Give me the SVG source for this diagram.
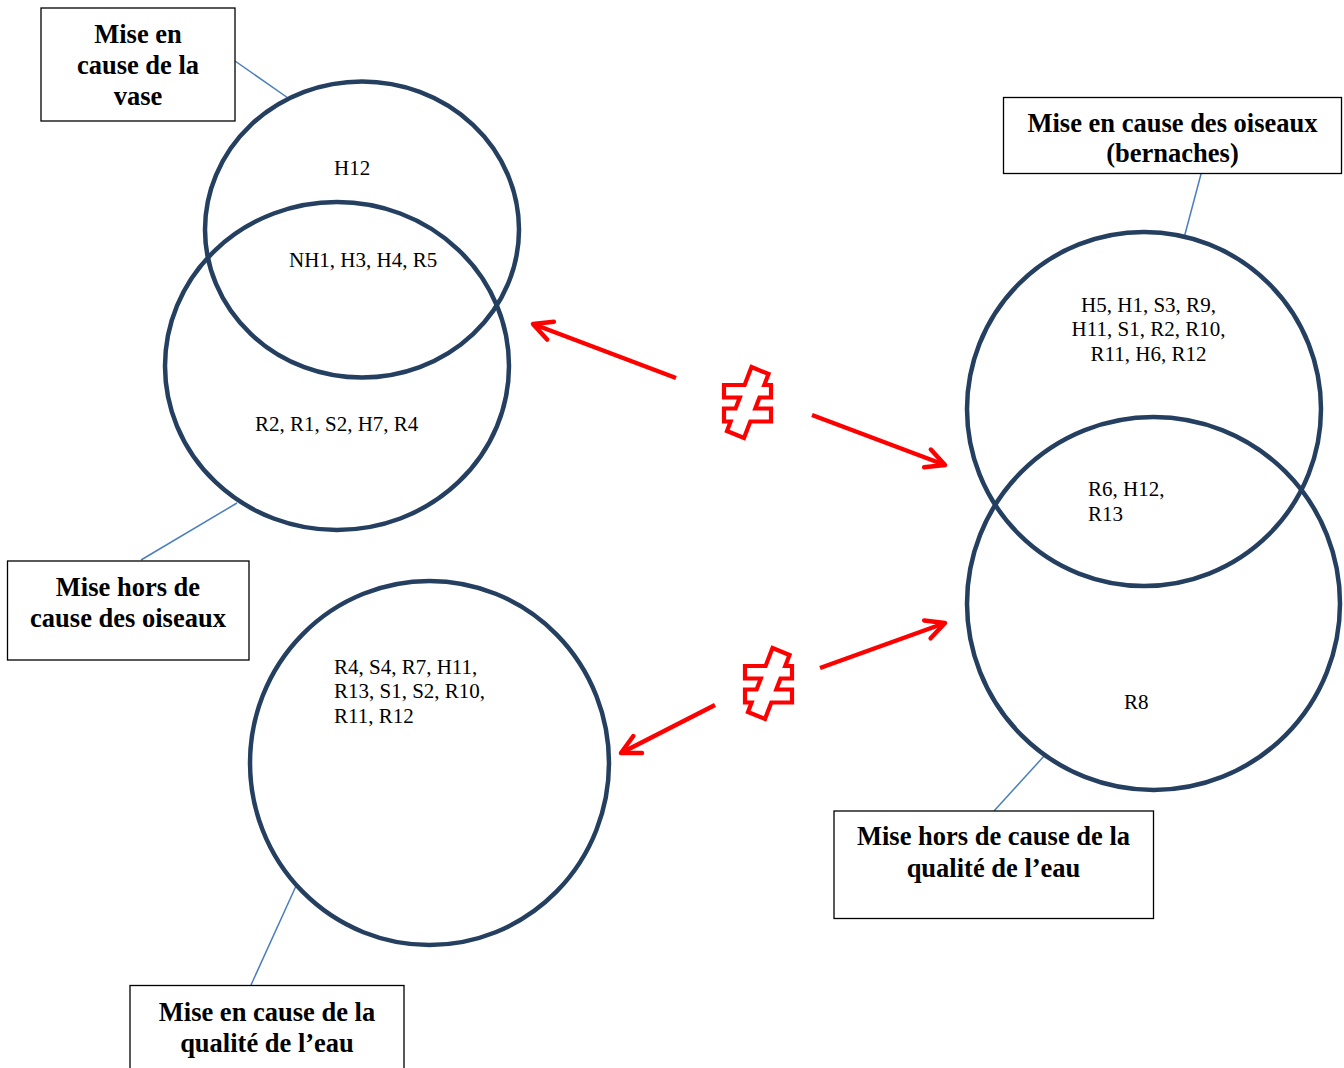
<svg xmlns="http://www.w3.org/2000/svg" width="1344" height="1068" viewBox="0 0 1344 1068">
<style>
.box{fill:#fff;stroke:#000;stroke-width:1.3}
.lbl{font-family:"Liberation Serif","Times New Roman",serif;font-weight:bold;font-size:26.5px;fill:#000;text-anchor:middle}
.item{font-family:"Liberation Serif","Times New Roman",serif;font-size:21px;fill:#000}
.ring{fill:none;stroke:#243F60;stroke-width:4.5}
.lead{stroke:#4A7EBB;stroke-width:1.5;fill:none}
.arr{stroke:#FF0000;stroke-width:4.5;fill:none;marker-end:url(#ah)}
.neq{fill:#fff;stroke:#FF0000;stroke-width:4.2;stroke-linejoin:miter}
</style>
<defs>
<marker id="ah" markerUnits="userSpaceOnUse" viewBox="-25 -15 30 30" refX="0" refY="0" markerWidth="30" markerHeight="30" orient="auto" overflow="visible">
<path d="M-18.7,-9.5 L0,0 L-18.7,9.5" fill="none" stroke="#FF0000" stroke-width="4.5" stroke-linecap="round" stroke-linejoin="round"/>
</marker>
<polygon id="neqshape" points="751.5,367 768.5,374 764.3,385 771,385 771,397.5 759.5,397.5 755.3,408.5 771,408.5 771,421.5 750.3,421.5 744,438 727,431 730.6,421.5 724,421.5 724,408.5 735.6,408.5 739.8,397.5 724,397.5 724,385 744.6,385"/>
</defs>
<rect width="1344" height="1068" fill="#fff"/>

<g id="connectors">
<line class="lead" x1="235" y1="61" x2="288" y2="98"/>
<line class="lead" x1="141" y1="560" x2="237" y2="503"/>
<line class="lead" x1="1201" y1="174" x2="1184" y2="238"/>
<line class="lead" x1="994" y1="811" x2="1045" y2="755"/>
<line class="lead" x1="251" y1="985" x2="296" y2="886"/>
<line class="arr" x1="676" y1="378" x2="533" y2="324"/>
<line class="arr" x1="812" y1="415" x2="945" y2="465"/>
<line class="arr" x1="820" y1="668" x2="945" y2="623"/>
<line class="arr" x1="715" y1="705" x2="621" y2="753"/>
</g>

<g id="neq1"><use href="#neqshape" class="neq"/></g>
<g id="neq2"><use href="#neqshape" class="neq" transform="translate(21,281)"/></g>

<g id="circle-vase">
<ellipse class="ring" cx="362" cy="229.5" rx="157" ry="148"/>
<text class="item" x="334" y="175">H12</text>
<text class="item" x="289" y="267">NH1, H3, H4, R5</text>
</g>
<g id="circle-hors-oiseaux">
<ellipse class="ring" cx="337" cy="366" rx="172" ry="164"/>
<text class="item" x="255" y="431">R2, R1, S2, H7, R4</text>
</g>
<g id="circle-eau">
<ellipse class="ring" cx="429.5" cy="763" rx="179.5" ry="182"/>
<text class="item" x="334" y="674">R4, S4, R7, H11,</text>
<text class="item" x="334" y="698">R13, S1, S2, R10,</text>
<text class="item" x="334" y="723">R11, R12</text>
</g>
<g id="circle-oiseaux">
<ellipse class="ring" cx="1144" cy="409" rx="177" ry="177"/>
<text class="item" x="1148.5" y="312" text-anchor="middle">H5, H1, S3, R9,</text>
<text class="item" x="1148.5" y="336" text-anchor="middle">H11, S1, R2, R10,</text>
<text class="item" x="1148.5" y="361" text-anchor="middle">R11, H6, R12</text>
</g>
<g id="circle-hors-eau">
<ellipse class="ring" cx="1153.5" cy="603.5" rx="186.5" ry="186.5"/>
<text class="item" x="1088" y="496">R6, H12,</text>
<text class="item" x="1088" y="521">R13</text>
<text class="item" x="1124" y="709">R8</text>
</g>

<g id="box-vase">
<rect class="box" x="41" y="8" width="194" height="113"/>
<text class="lbl" x="138" y="43">Mise en</text>
<text class="lbl" x="138" y="74">cause de la</text>
<text class="lbl" x="138" y="105">vase</text>
</g>
<g id="box-hors-oiseaux">
<rect class="box" x="7.5" y="561" width="241.5" height="99"/>
<text class="lbl" x="128" y="596">Mise hors de</text>
<text class="lbl" x="128" y="627">cause des oiseaux</text>
</g>
<g id="box-oiseaux">
<rect class="box" x="1003.5" y="97.5" width="338" height="76"/>
<text class="lbl" x="1172.5" y="132">Mise en cause des oiseaux</text>
<text class="lbl" x="1172.5" y="162">(bernaches)</text>
</g>
<g id="box-hors-eau">
<rect class="box" x="834" y="811" width="319.5" height="107.5"/>
<text class="lbl" x="993.5" y="845">Mise hors de cause de la</text>
<text class="lbl" x="993.5" y="877">qualité de l’eau</text>
</g>
<g id="box-eau">
<rect class="box" x="130" y="985.5" width="274" height="90"/>
<text class="lbl" x="267" y="1021">Mise en cause de la</text>
<text class="lbl" x="267" y="1052">qualité de l’eau</text>
</g>
</svg>
